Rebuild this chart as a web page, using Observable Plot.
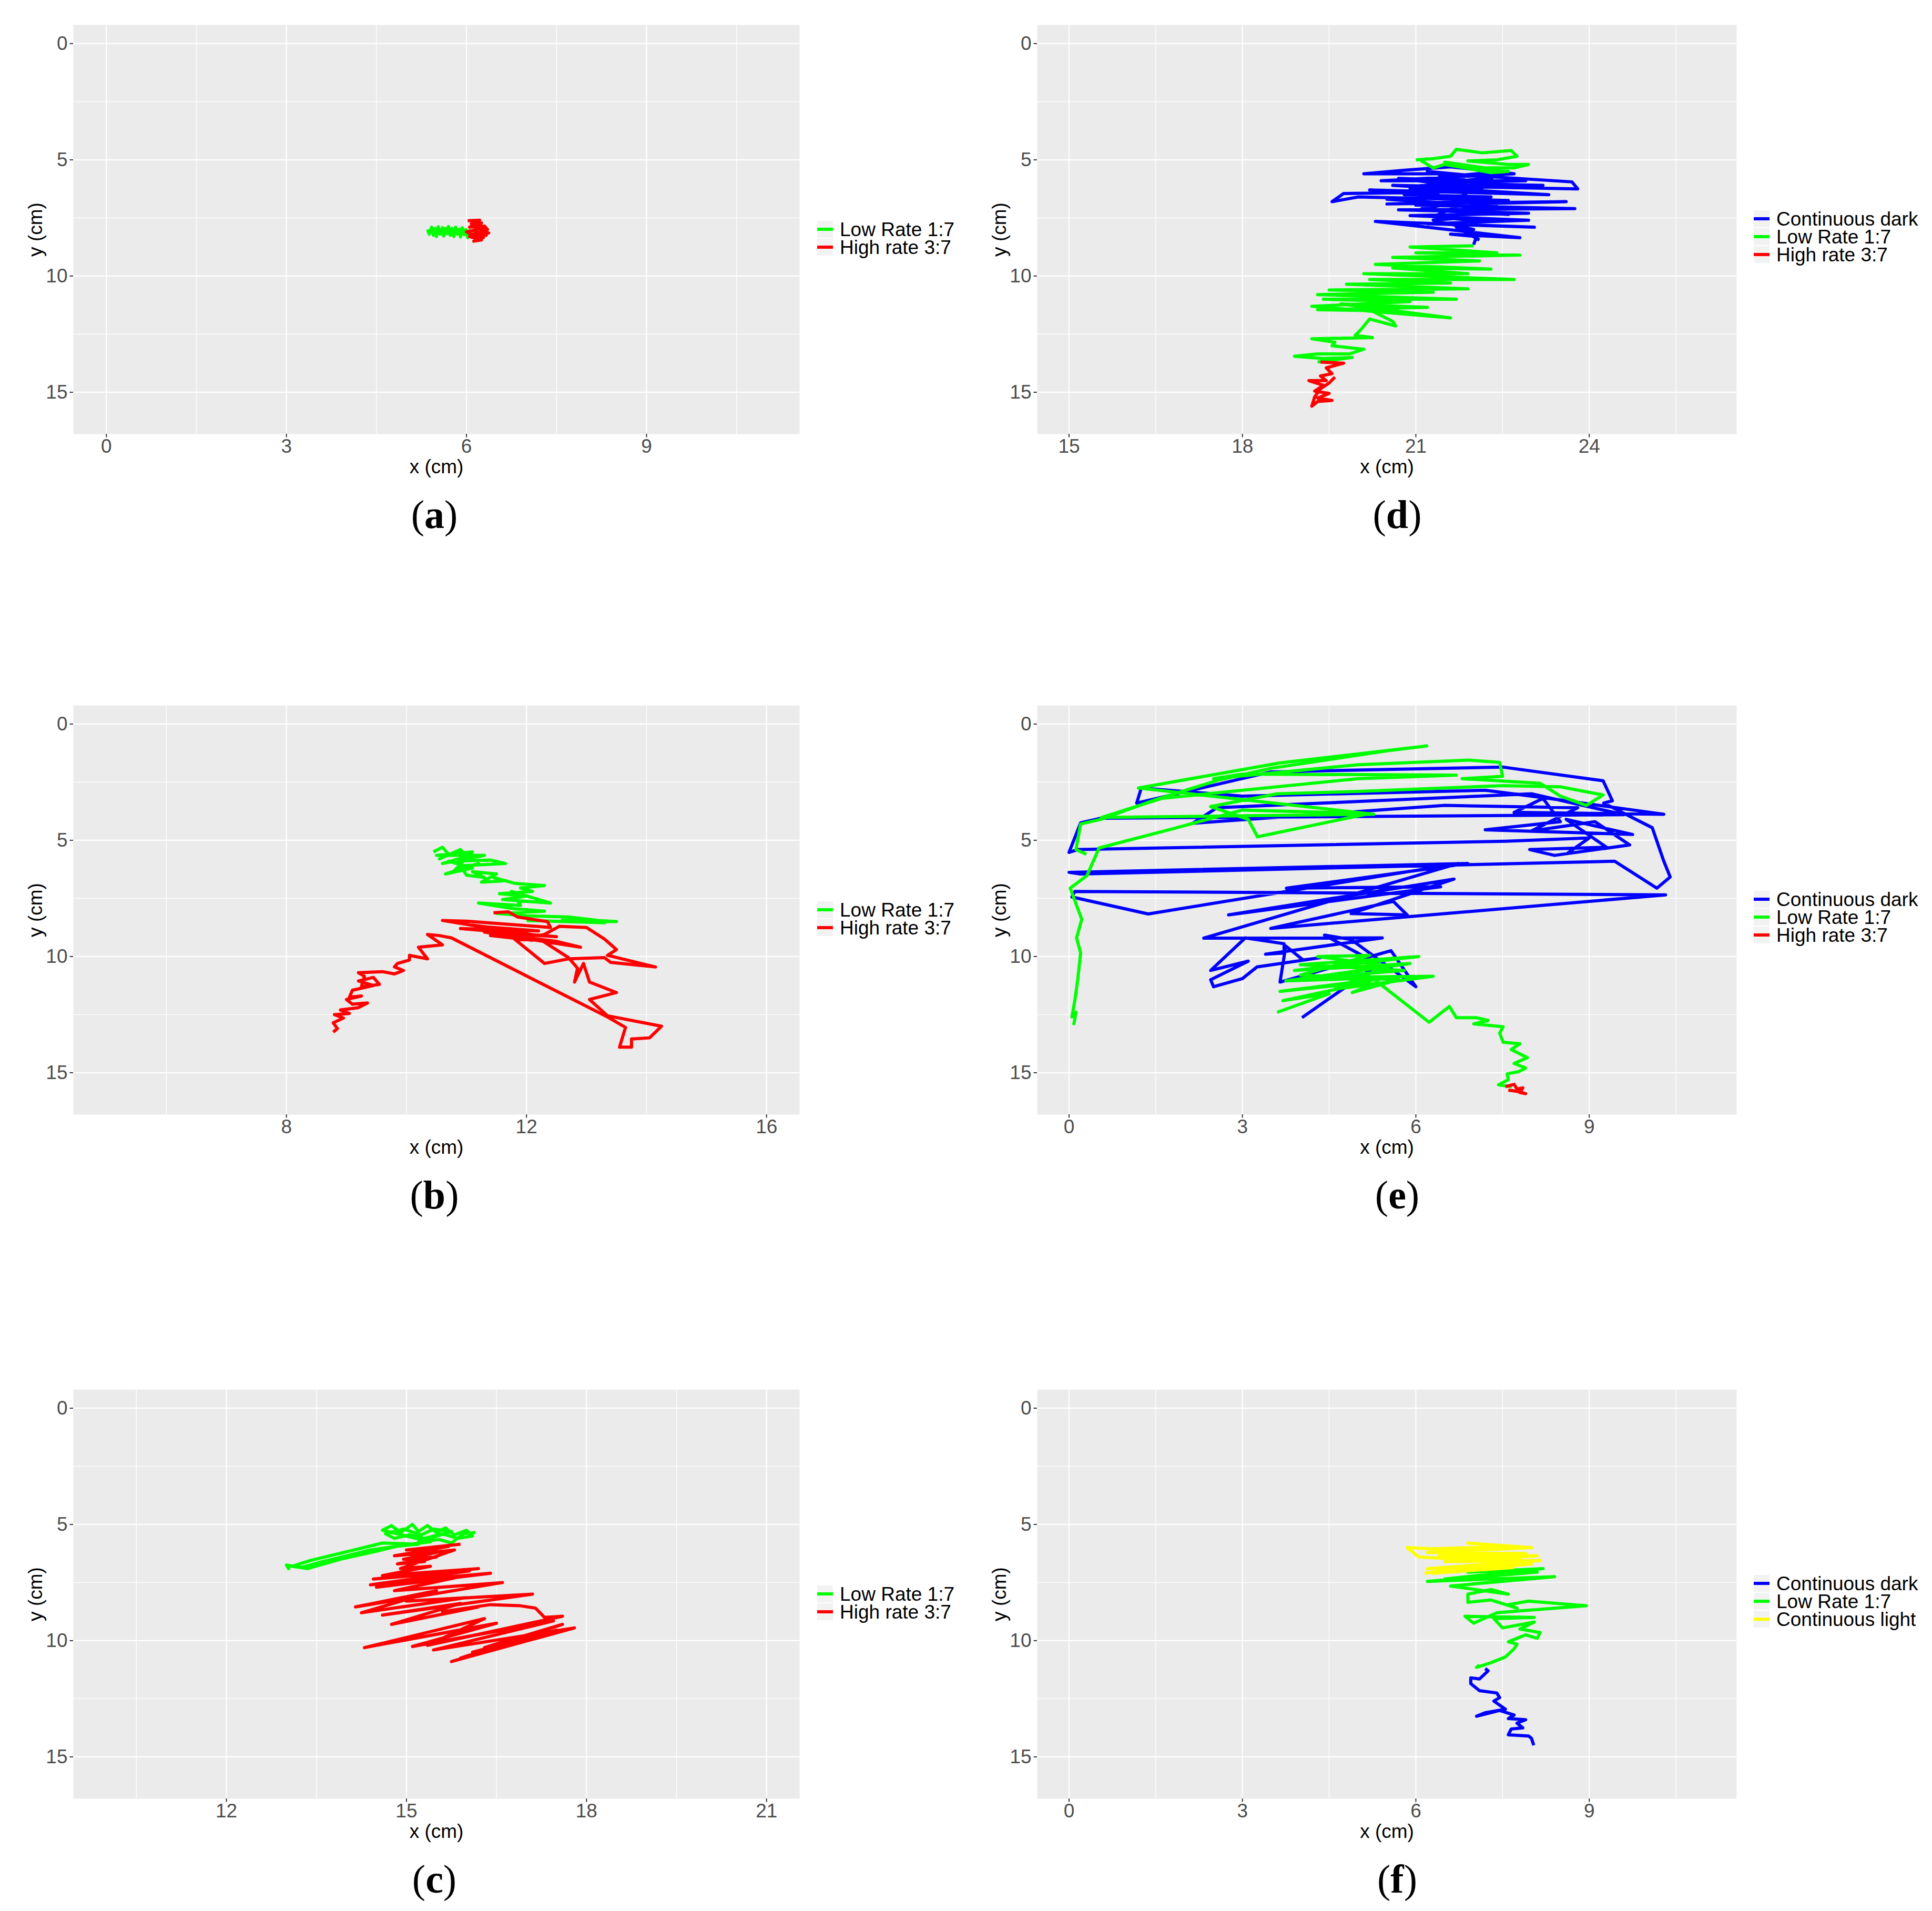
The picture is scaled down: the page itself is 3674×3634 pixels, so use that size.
<!DOCTYPE html>
<html>
<head>
<meta charset="utf-8">
<script src="https://cdn.jsdelivr.net/npm/d3@7"></script>
<script src="https://cdn.jsdelivr.net/npm/@observablehq/plot@0.6"></script>
<style>
html, body { margin: 0; padding: 0; background: #ffffff; }
#page { position: relative; width: 3674px; height: 3634px; background: #ffffff; overflow: hidden; font-family: "Liberation Sans", Arial, sans-serif; }
.panel { position: absolute; }
.legend { position: absolute; font-size: 37px; color: #000; font-family: "Liberation Sans", Arial, sans-serif; }
.legend .row { position: absolute; left: 0; height: 34px; white-space: nowrap; }
.legend .key { position: absolute; left: 0; top: 0; width: 30px; height: 32px; background: #F2F2F2; }
.legend .key i { position: absolute; left: 0; top: 13px; width: 30px; height: 6px; display: block; }
.legend .lab { position: absolute; left: 43px; top: -2px; line-height: 37px; }
.cap { position: absolute; font-family: "Liberation Serif", "Times New Roman", serif; font-size: 76px; line-height: 76px; transform: translateX(-50%); white-space: nowrap; color: #000; }
.cap b { font-weight: bold; }
</style>
</head>
<body>
<div id="page"></div>
<script>
// ---------------- series names & colours ----------------
const seriesNames  = ["Continuous dark", "Low Rate 1:7", "High rate 3:7", "Continuous light"];
const seriesColors = ["#0000FF", "#00FF00", "#FF0000", "#FFFF00"];

// ---------------- tick values ----------------
const yMajor = [0, 5, 10, 15];
const yMinor = [2.5, 7.5, 12.5];
const xMajorA = [0, 3, 6, 9];
const xMinorA = [1.5, 4.5, 7.5, 10.5];
const xMajorB = [8, 12, 16];
const xMinorB = [6, 10, 14];
const xMajorC = [12, 15, 18, 21];
const xMinorC = [10.5, 13.5, 16.5, 19.5];
const xMajorD = [15, 18, 21, 24];
const xMinorD = [16.5, 19.5, 22.5, 25.5];
const xRangeA = [0, 11], xRangeB = [5, 16], xRangeC = [10, 21], xRangeD = [15, 26];
const yRange = [0, 16];

// ---------------- panel (a) ----------------
const a_low = [[5.35,8.0],[5.38,8.2],[5.42,7.9],[5.45,8.25],[5.48,7.95],[5.5,8.3],[5.53,7.88],[5.56,8.2],[5.6,7.92],[5.62,8.28],[5.65,7.95],[5.68,8.18],[5.7,7.87],[5.73,8.25],[5.76,7.95],[5.79,8.3],[5.82,7.9],[5.85,8.2],[5.88,7.98],[5.9,8.32],[5.93,7.92],[5.96,8.22],[5.99,8.0],[6.02,8.35],[6.05,8.05],[6.08,8.3],[6.11,8.1],[6.14,8.35],[6.17,8.15],[6.2,8.28],[6.0,8.15],[5.8,8.1],[5.6,8.08],[5.4,8.05]];
const a_high = [[6.02,7.62],[6.22,7.6],[6.08,7.75],[6.25,7.72],[6.05,7.9],[6.3,7.85],[6.35,8.0],[6.2,7.95],[6.37,8.15],[6.15,8.1],[6.33,8.25],[6.1,8.2],[6.28,8.35],[6.05,8.3],[6.25,8.45],[6.12,8.5],[6.22,8.38],[6.0,8.1],[6.18,8.0],[6.1,7.8]];

// ---------------- panel (b) ----------------
const b_low = [[10.45,5.5],[10.6,5.3],[10.7,5.6],[10.55,5.8],[10.9,5.4],[11.0,5.7],[10.6,6.0],[11.3,5.65],[10.5,5.65],[11.1,5.5],[10.8,6.3],[11.2,6.0],[10.65,6.45],[11.1,6.2],[10.7,5.9],[11.4,5.85],[11.65,6.0],[10.9,6.1],[11.0,6.5],[11.3,6.6],[11.1,6.35],[11.5,6.45],[11.25,6.8],[11.6,6.75],[11.45,6.6],[11.8,6.85],[12.3,6.95],[11.9,7.05],[12.1,7.2],[11.55,7.3],[12.0,7.4],[11.6,7.55],[12.4,7.7],[11.75,7.2],[11.9,7.8],[11.2,7.7],[11.8,7.95],[12.3,8.05],[11.5,8.15],[12.0,8.25],[12.7,8.3],[13.2,8.45],[13.5,8.5],[12.9,8.5],[12.6,8.4],[13.3,8.55],[12.0,8.45]];
const b_high = [[11.45,8.12],[11.7,8.08],[11.85,8.3],[12.35,8.5],[12.4,8.75],[11.0,8.48],[10.6,8.45],[11.2,8.7],[12.2,8.9],[10.9,8.8],[12.5,9.15],[11.3,8.95],[12.9,9.6],[12.5,9.35],[11.6,9.05],[12.1,9.3],[11.4,9.1],[12.0,8.95],[11.1,8.65],[12.2,9.1],[12.3,9.05],[12.55,8.7],[13.0,8.75],[13.3,9.25],[13.5,9.7],[13.35,9.95],[14.15,10.45],[13.4,10.25],[13.3,10.05],[12.7,10.1],[12.3,10.3],[11.8,9.25],[12.25,9.3],[12.7,10.05],[12.85,10.5],[12.8,11.1],[12.95,10.3],[13.05,11.1],[13.5,11.55],[13.05,11.85],[13.35,12.55],[14.25,13.0],[14.05,13.5],[13.75,13.55],[13.75,13.9],[13.55,13.9],[13.65,13.05],[13.35,12.6],[10.75,9.2],[10.55,9.1],[10.35,9.05],[10.6,9.5],[10.2,9.6],[10.35,10.1],[10.05,9.95],[10.05,10.15],[9.85,10.3],[9.8,10.45],[9.95,10.6],[9.8,10.75],[9.6,10.65],[9.2,10.7],[9.3,10.85],[9.25,11.3],[9.55,11.2],[9.45,10.9],[9.2,11.05],[9.45,11.25],[9.1,11.45],[9.05,11.75],[9.25,11.7],[9.0,11.85],[9.1,12.05],[9.35,12.0],[9.2,12.2],[8.9,12.3],[9.05,12.45],[8.8,12.5],[8.95,12.65],[8.78,12.85],[8.85,13.1],[8.78,13.25]];

// ---------------- panel (c) ----------------
const c_low = [[13.05,6.95],[13.0,6.75],[13.25,6.85],[13.6,6.6],[14.0,6.35],[14.4,6.1],[14.8,5.95],[15.2,5.85],[14.6,5.8],[14.2,6.05],[13.8,6.3],[13.4,6.55],[13.1,6.8],[13.35,6.9],[13.9,6.5],[14.5,6.15],[14.9,5.9],[15.4,5.75],[14.6,5.25],[14.75,5.05],[14.9,5.35],[15.1,5.0],[15.2,5.3],[15.35,5.05],[15.5,5.35],[15.65,5.15],[15.8,5.45],[16.0,5.25],[16.1,5.5],[15.85,5.6],[15.6,5.4],[15.3,5.6],[15.05,5.45],[14.8,5.6],[14.65,5.4],[14.95,5.2],[15.25,5.45],[15.45,5.2],[15.75,5.3],[15.2,5.75],[15.55,5.65],[15.75,5.8],[15.95,5.4],[16.15,5.35]];
const c_high = [[15.9,5.85],[15.0,6.1],[15.7,5.95],[14.8,6.35],[15.6,6.15],[14.95,6.5],[15.5,6.4],[14.85,6.7],[15.3,6.6],[15.1,6.3],[15.8,6.1],[14.9,6.9],[15.4,6.8],[14.6,7.2],[16.2,6.9],[14.45,7.35],[16.05,7.0],[14.4,7.6],[15.3,7.35],[16.4,7.1],[14.5,7.7],[15.8,7.3],[14.8,7.85],[16.6,7.5],[14.15,8.55],[15.5,7.85],[14.25,8.8],[16.0,8.15],[15.0,8.3],[17.1,8.0],[14.6,8.9],[15.9,8.4],[14.75,9.3],[16.2,8.55],[15.6,8.75],[16.4,8.45],[16.9,8.5],[17.15,8.6],[17.3,9.0],[17.6,8.95],[15.35,10.2],[16.3,9.05],[14.3,10.3],[16.5,9.25],[15.1,10.25],[17.45,9.15],[15.45,10.4],[17.8,9.45],[15.75,10.9],[17.5,9.55],[16.1,10.5],[17.2,9.75],[15.9,10.75],[17.6,9.3],[16.3,10.3],[16.8,9.9]];

// ---------------- panel (d) ----------------
const d_dark = [[22.0,8.65],[22.05,8.3],[21.6,8.2],[22.8,8.35],[20.3,7.65],[23.05,7.9],[21.2,7.75],[22.95,7.6],[20.9,7.4],[22.95,7.3],[20.7,7.15],[23.75,7.1],[21.0,6.95],[23.6,6.8],[20.5,6.9],[22.6,6.75],[20.0,6.6],[19.55,6.8],[19.75,6.45],[21.3,6.4],[20.2,6.3],[23.3,6.5],[20.6,6.1],[23.8,6.25],[23.7,5.95],[21.5,5.6],[20.1,5.6],[20.8,5.45],[21.6,5.3],[22.7,5.6],[20.4,5.9],[22.9,5.9],[21.3,6.0],[23.2,6.1],[20.9,6.25],[22.2,6.35],[21.4,5.75],[22.5,5.5],[21.8,6.55],[20.5,6.7],[22.4,7.0],[21.5,7.2],[22.6,7.35],[21.1,7.1],[22.3,6.6],[20.8,6.5],[22.0,6.2],[20.7,5.8],[21.9,5.9],[21.2,5.5],[22.3,5.75],[21.0,6.15],[21.8,6.9],[21.3,7.45],[22.2,7.65],[21.8,7.5],[21.3,7.6],[22.0,8.0],[21.7,7.9],[22.1,8.45]];
const d_low_top = [[21.0,5.0],[21.3,4.95],[21.6,4.85],[21.7,4.55],[22.15,4.7],[22.65,4.6],[22.75,4.85],[22.4,5.0],[21.9,5.05],[22.6,5.2],[22.95,5.2],[22.7,5.35],[22.2,5.35],[21.5,5.1],[21.8,5.25],[22.1,5.45],[22.6,5.5],[22.3,5.55],[21.5,5.2],[21.3,5.35],[21.1,5.05],[21.2,4.95]];
const d_low = [[22.0,8.7],[20.9,8.75],[22.4,9.0],[21.0,9.0],[22.8,9.1],[20.6,9.2],[22.1,9.35],[20.3,9.5],[22.3,9.7],[20.6,9.65],[21.9,9.9],[20.1,9.9],[22.7,10.15],[20.2,10.15],[21.6,10.3],[19.8,10.35],[21.9,10.55],[19.5,10.6],[21.3,10.7],[19.3,10.8],[21.7,11.0],[19.4,11.0],[20.9,11.1],[19.2,11.3],[21.6,11.8],[19.7,11.2],[21.2,11.35],[19.3,11.45],[20.6,11.5],[20.2,11.45],[20.6,11.95],[20.65,12.15],[20.2,11.85],[20.05,12.3],[19.95,12.55],[20.25,12.65],[19.2,12.7],[19.6,12.85],[19.55,13.0],[20.1,13.15],[19.85,13.35],[19.3,13.35],[18.9,13.45],[19.4,13.55],[19.9,13.5],[19.3,13.7]];
const d_high = [[19.35,13.7],[19.75,13.75],[19.45,13.95],[19.55,14.2],[19.35,14.3],[19.45,14.5],[19.15,14.5],[19.4,14.7],[19.25,14.95],[19.5,15.05],[19.3,15.25],[19.55,15.35],[19.3,15.4],[19.2,15.6],[19.25,15.2],[19.35,14.85],[19.5,14.6],[19.6,14.35]];

// ---------------- panel (e) ----------------
const e_dark = [[4.03,12.63],[5.35,10.33],[4.42,9.08],[4.88,9.27],[6.0,11.3],[5.57,9.75],[3.65,11.1],[3.75,9.55],[4.05,10.15],[4.35,10.05],[3.25,10.45],[3.0,10.95],[2.5,11.3],[2.45,11.0],[3.1,10.2],[2.45,10.6],[3.05,9.2],[3.72,9.45],[3.72,9.85],[3.4,9.9],[5.42,9.2],[2.33,9.21],[6.73,6.0],[1.37,8.17],[0.05,7.44],[0.1,7.2],[10.32,7.35],[3.49,8.79],[5.61,7.63],[5.85,8.21],[4.88,8.15],[6.66,6.67],[2.76,8.21],[6.43,7.0],[3.76,7.06],[6.9,6.0],[0.0,6.38],[0.2,6.45],[9.44,5.9],[10.17,7.06],[10.4,6.58],[10.29,5.9],[10.09,4.46],[9.25,3.4],[9.4,3.3],[9.24,2.44],[7.5,1.85],[3.49,2.06],[1.17,3.4],[1.25,2.75],[3.0,3.1],[7.2,2.85],[8.3,3.2],[10.29,3.88],[7.7,3.8],[8.2,3.2],[8.5,4.2],[7.2,4.55],[9.75,4.75],[8.6,4.1],[9.3,5.3],[7.97,5.4],[8.4,5.65],[9.7,5.2],[9.1,4.2],[8.0,4.6],[8.8,3.6],[6.5,3.5],[2.14,4.27],[2.56,3.6],[8.0,3.0],[9.6,3.9],[0.55,4.05],[0.2,4.25],[0.0,5.52],[0.15,5.4],[7.55,5.04],[9.0,4.9],[8.6,5.6]];
const e_low_top = [[0.08,12.95],[0.12,12.4],[0.05,12.6],[0.1,11.9],[0.15,11.0],[0.2,9.85],[0.13,9.2],[0.22,8.4],[0.02,7.06],[0.31,6.52],[0.52,5.33],[1.8,4.5],[3.0,3.7],[5.2,3.85],[3.26,4.85],[3.1,4.1],[2.45,3.55],[3.6,3.0],[5.0,2.9],[7.5,2.65],[8.5,2.7],[9.24,3.05],[8.95,3.5],[8.5,3.1],[8.15,2.55],[6.8,2.35],[7.5,2.25],[7.45,1.65],[6.9,1.55],[5.0,1.75],[2.5,2.35],[3.0,2.15],[6.7,2.2],[5.0,2.35],[1.6,3.2],[0.56,4.02],[5.27,3.88],[1.2,2.75],[3.65,1.67],[6.19,0.94],[5.5,1.15],[3.5,1.9],[2.6,2.4],[1.5,3.25],[0.55,4.1],[0.2,4.3],[0.12,5.4],[0.3,5.6]];
const e_low = [[3.6,12.4],[4.5,11.6],[3.7,11.9],[5.2,11.1],[3.65,11.5],[5.6,10.9],[3.75,11.05],[5.9,10.3],[3.9,10.6],[6.05,10.0],[4.0,10.35],[5.8,10.6],[4.2,10.9],[6.3,10.85],[4.6,11.4],[5.5,10.4],[4.3,10.0],[5.2,9.95],[4.0,10.8],[5.7,11.0],[4.9,11.55],[5.34,11.1],[6.23,12.83],[6.58,12.15],[6.7,12.63],[7.04,12.63],[7.25,12.75],[7.0,12.9],[7.51,13.02],[7.45,13.3],[7.51,13.69],[7.8,13.75],[7.65,14.0],[7.93,14.35],[7.7,14.6],[7.9,14.8],[7.78,14.95],[7.58,15.05],[7.6,15.3],[7.43,15.52],[7.66,15.6]];
const e_high = [[7.55,15.6],[7.7,15.5],[7.75,15.7],[7.85,15.65],[7.8,15.85],[7.9,15.9],[7.75,15.8],[7.6,15.75]];

// ---------------- panel (f) ----------------
const f_dark = [[8.04,14.5],[8.0,14.2],[7.95,14.1],[7.6,14.05],[7.65,13.8],[7.85,13.75],[7.75,13.55],[7.9,13.4],[7.6,13.35],[7.7,13.2],[7.45,13.0],[7.05,13.25],[7.2,13.1],[7.55,12.95],[7.35,12.6],[7.45,12.45],[7.4,12.25],[7.1,12.15],[7.05,12.05],[6.95,11.85],[6.95,11.6],[7.1,11.65],[7.25,11.3],[7.2,11.2]];
const f_low = [[7.1,11.05],[7.05,11.15],[7.3,10.95],[7.55,10.7],[7.7,10.35],[7.75,10.15],[7.6,10.05],[7.9,9.75],[8.1,9.9],[8.15,9.65],[7.8,9.5],[8.05,9.2],[7.5,9.45],[7.35,9.05],[8.05,9.0],[6.85,8.95],[7.0,9.25],[7.4,8.8],[8.95,8.5],[7.95,8.3],[7.6,8.45],[7.75,8.6],[7.3,8.25],[6.9,8.35],[6.9,8.0],[7.3,7.8],[7.6,8.0],[6.6,7.65],[8.4,7.25],[6.2,7.45],[8.1,7.05],[6.5,7.35],[8.2,6.9],[6.9,7.05],[7.7,6.85]];
const f_light = [[7.7,6.85],[6.3,7.1],[8.0,6.7],[6.2,6.9],[8.15,6.55],[6.5,6.6],[8.1,6.35],[6.4,6.35],[7.9,6.25],[6.2,6.2],[8.0,6.0],[6.9,5.8],[7.6,5.95],[6.3,6.05],[5.85,6.0],[6.05,6.4],[6.4,6.45],[7.8,6.5],[6.15,7.1]];

// ---------------- panel definitions ----------------
const panels = [
  {label: "a", col: 0, row: 0, xRange: xRangeA, xMajor: xMajorA, xMinor: xMinorA,
   series: [["Low Rate 1:7", [a_low]], ["High rate 3:7", [a_high]]],
   legend: ["Low Rate 1:7", "High rate 3:7"]},
  {label: "b", col: 0, row: 1, xRange: xRangeB, xMajor: xMajorB, xMinor: xMinorB,
   series: [["Low Rate 1:7", [b_low]], ["High rate 3:7", [b_high]]],
   legend: ["Low Rate 1:7", "High rate 3:7"]},
  {label: "c", col: 0, row: 2, xRange: xRangeC, xMajor: xMajorC, xMinor: xMinorC,
   series: [["Low Rate 1:7", [c_low]], ["High rate 3:7", [c_high]]],
   legend: ["Low Rate 1:7", "High rate 3:7"]},
  {label: "d", col: 1, row: 0, xRange: xRangeD, xMajor: xMajorD, xMinor: xMinorD,
   series: [["Continuous dark", [d_dark]], ["Low Rate 1:7", [d_low_top, d_low]], ["High rate 3:7", [d_high]]],
   legend: ["Continuous dark", "Low Rate 1:7", "High rate 3:7"]},
  {label: "e", col: 1, row: 1, xRange: xRangeA, xMajor: xMajorA, xMinor: xMinorA,
   series: [["Continuous dark", [e_dark]], ["Low Rate 1:7", [e_low_top, e_low]], ["High rate 3:7", [e_high]]],
   legend: ["Continuous dark", "Low Rate 1:7", "High rate 3:7"]},
  {label: "f", col: 1, row: 2, xRange: xRangeA, xMajor: xMajorA, xMinor: xMinorA,
   series: [["Continuous dark", [f_dark]], ["Low Rate 1:7", [f_low]], ["Continuous light", [f_light]]],
   legend: ["Continuous dark", "Low Rate 1:7", "Continuous light"]}
];

// ---------------- layout ----------------
const colLayout = [
  {svgLeft: 0, marginLeft: 139, frameWidth: 1381, legendLeft: 1554, capX: 826},
  {svgLeft: 1840, marginLeft: 132, frameWidth: 1330, legendLeft: 3335, capX: 2657}
];
const rowFrameTop = [47, 1341, 2642];
const frameHeight = 778;
const marginTop = 20, marginBottom = 110, marginRight = 20;

const page = document.getElementById("page");
const colorOf = name => seriesColors[seriesNames.indexOf(name)];
const fmt = d => String(d);

panels.forEach(p => {
  const L = colLayout[p.col];
  const ft = rowFrameTop[p.row];
  const rows = [];
  p.series.forEach(([name, segs], si) => {
    segs.forEach((seg, gi) => {
      seg.forEach(([x, y]) => rows.push({series: name, seg: si + "-" + gi, x, y}));
    });
  });
  const ex = (p.xRange[1] - p.xRange[0]) * 0.05;
  const ey = (yRange[1] - yRange[0]) * 0.05;
  const chart = Plot.plot({
    width: L.marginLeft + L.frameWidth + marginRight,
    height: marginTop + frameHeight + marginBottom,
    marginLeft: L.marginLeft, marginRight, marginTop, marginBottom,
    style: {background: "white", fontFamily: "Liberation Sans, Arial, sans-serif", overflow: "visible"},
    x: {domain: [p.xRange[0] - ex, p.xRange[1] + ex]},
    y: {domain: [yRange[0] - ey, yRange[1] + ey], reverse: true},
    color: {domain: seriesNames, range: seriesColors},
    marks: [
      Plot.frame({fill: "#EBEBEB", stroke: null}),
      Plot.ruleX(p.xMinor, {stroke: "#ffffff", strokeWidth: 1.4}),
      Plot.ruleY(yMinor, {stroke: "#ffffff", strokeWidth: 1.4}),
      Plot.ruleX(p.xMajor, {stroke: "#ffffff", strokeWidth: 2.2}),
      Plot.ruleY(yMajor, {stroke: "#ffffff", strokeWidth: 2.2}),
      Plot.line(rows, {x: "x", y: "y", z: "seg", stroke: "series", strokeWidth: 6, strokeLinejoin: "round", strokeLinecap: "butt"}),
      Plot.axisX(p.xMajor, {anchor: "bottom", tickSize: 6.5, tickPadding: 3, fontSize: 37, fill: "#4D4D4D", stroke: "#333333", strokeWidth: 2, label: null, tickFormat: fmt}),
      Plot.axisX([], {anchor: "bottom", label: "x (cm)", labelAnchor: "center", labelArrow: "none", labelOffset: 74, fontSize: 37, fill: "#000000"}),
      Plot.axisY(yMajor, {anchor: "left", tickSize: 6.5, tickPadding: 4.5, fontSize: 37, fill: "#4D4D4D", stroke: "#333333", strokeWidth: 2, label: null, tickFormat: fmt}),
      Plot.axisY([], {anchor: "left", label: "y (cm)", labelAnchor: "center", labelArrow: "none", labelOffset: 86, fontSize: 37, fill: "#000000"})
    ]
  });
  const holder = document.createElement("div");
  holder.className = "panel";
  holder.style.left = L.svgLeft + "px";
  holder.style.top = (ft - marginTop) + "px";
  holder.appendChild(chart);
  page.appendChild(holder);

  // legend
  const leg = document.createElement("div");
  leg.className = "legend";
  leg.style.left = L.legendLeft + "px";
  const n = p.legend.length;
  const legTop = ft + (n === 2 ? 373 : 353);
  leg.style.top = legTop + "px";
  p.legend.forEach((name, i) => {
    const r = document.createElement("div");
    r.className = "row";
    r.style.top = (i * 34) + "px";
    const k = document.createElement("div");
    k.className = "key";
    const line = document.createElement("i");
    line.style.background = colorOf(name);
    k.appendChild(line);
    const t = document.createElement("div");
    t.className = "lab";
    t.textContent = name;
    r.appendChild(k);
    r.appendChild(t);
    leg.appendChild(r);
  });
  page.appendChild(leg);

  // caption
  const cap = document.createElement("div");
  cap.className = "cap";
  cap.style.left = L.capX + "px";
  cap.style.top = (ft + 893) + "px";
  cap.innerHTML = "(<b>" + p.label + "</b>)";
  page.appendChild(cap);
});
</script>
</body>
</html>
